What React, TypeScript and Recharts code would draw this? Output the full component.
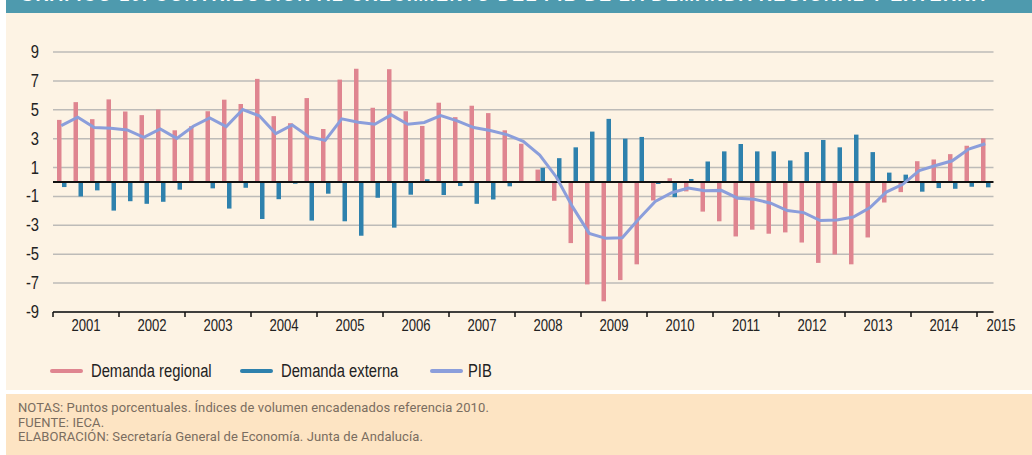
import React from "react";
import { ComposedChart, Bar, Line, XAxis, YAxis, CartesianGrid, ReferenceLine } from "recharts";

const years = [2001, 2002, 2003, 2004, 2005, 2006, 2007, 2008, 2009, 2010, 2011, 2012, 2013, 2014, 2015];

// Demanda regional, puntos porcentuales (trimestral, 2001T1 - 2015T1)
const regional = [
  4.3, 5.53, 4.35, 5.72,
  4.88, 4.63, 5.02, 3.58,
  3.86, 4.9, 5.7, 5.4,
  7.14, 4.56, 4.07, 5.81,
  3.67, 7.09, 7.84, 5.14,
  7.81, 4.9, 3.88, 5.49,
  4.49, 5.28, 4.77, 3.58,
  2.65, 0.86, -1.3, -4.23,
  -7.09, -8.26, -6.79, -5.7,
  -1.28, 0.26, -0.65, -2.05,
  -2.72, -3.77, -3.3, -3.58,
  -3.49, -4.19, -5.6, -5.02,
  -5.7, -3.84, -1.42, -0.7,
  1.44, 1.56, 1.93, 2.51,
  3.02,
];

// Demanda externa
const externa = [
  -0.35, -1.0, -0.58, -1.98,
  -1.33, -1.51, -1.37, -0.53,
  0.0, -0.44, -1.84, -0.4,
  -2.56, -1.19, -0.12, -2.67,
  -0.81, -2.72, -3.72, -1.09,
  -3.16, -0.88, 0.19, -0.9,
  -0.28, -1.51, -1.21, -0.3,
  0.05, 0.98, 1.65, 2.4,
  3.49, 4.37, 3.0, 3.12,
  -0.14, -1.05, 0.21, 1.42,
  2.12, 2.63, 2.12, 2.12,
  1.49, 2.07, 2.91, 2.4,
  3.28, 2.07, 0.65, 0.51,
  -0.67, -0.42, -0.47, -0.33,
  -0.37,
];

// PIB
const pib = [
  3.9, 4.49, 3.77, 3.72,
  3.6, 3.09, 3.67, 3.02,
  3.86, 4.44, 3.84, 5.02,
  4.58, 3.35, 3.95, 3.14,
  2.88, 4.37, 4.14, 4.0,
  4.65, 4.0, 4.12, 4.6,
  4.23, 3.77, 3.56, 3.28,
  2.81, 1.86, 0.35, -1.74,
  -3.56, -3.9, -3.86, -2.56,
  -1.35, -0.74, -0.42, -0.6,
  -0.58, -1.12, -1.19, -1.47,
  -1.98, -2.12, -2.67, -2.63,
  -2.42, -1.79, -0.7, -0.16,
  0.79, 1.14, 1.47, 2.28,
  2.65,
];

const yTicks = [9, 7, 5, 3, 1, -1, -3, -5, -7, -9];

const series = [
  { key: "regional", name: "Demanda regional", color: "#DF8590" },
  { key: "externa", name: "Demanda externa", color: "#2E81AD" },
  { key: "pib", name: "PIB", color: "#8B9EDB" },
];

const notes = [
  "NOTAS: Puntos porcentuales. Índices de volumen encadenados referencia 2010.",
  "FUENTE: IECA.",
  "ELABORACIÓN: Secretaría General de Economía. Junta de Andalucía.",
];

const quarters = years.flatMap((y) => (y === 2015 ? [`${y}-T1`] : [1, 2, 3, 4].map((q) => `${y}-T${q}`)));
const data = quarters.map((q, i) => ({ q, regional: regional[i], externa: externa[i], pib: pib[i] }));

const W = 1032;
const H = 360;
const M = { top: 52, right: 38.5, bottom: 18, left: 8 };
const Y_W = 45;
const BW = (W - M.left - M.right - Y_W) / quarters.length;

// no narrow face installed, so squeeze Liberation Sans horizontally
const sans = "'Liberation Sans', Arial, sans-serif";
const SQ = 0.82;

function YearTick(props: any) {
  const { x, y, payload } = props;
  const [yr, q] = String(payload.value).split("-");
  if (q !== "T1") return <g />;
  const left = x - BW / 2;
  const labelX = yr === "2015" ? left + 24 : left + BW * 2;
  return (
    <g>
      <line x1={left} x2={left} y1={y} y2={y + 5} stroke="#111" strokeWidth={1.5} />
      <text
        transform={`translate(${labelX},${y + 19}) scale(${SQ},1)`}
        textAnchor="middle"
        fontSize={16}
        fontFamily={sans}
        fill="#222"
      >
        {yr}
      </text>
    </g>
  );
}

function ValueTick(props: any) {
  const { x, y, payload } = props;
  return (
    <text
      transform={`translate(${x},${y + 6}) scale(${SQ},1)`}
      textAnchor="end"
      fontSize={18}
      fontFamily={sans}
      fill="#222"
    >
      {payload.value}
    </text>
  );
}

export default function App() {
  return (
    <div style={{ position: "absolute", left: 0, top: 0, width: W, height: 455, background: "#fff", overflow: "hidden" }}>
      {/* title band, cut off at the top */}
      <div style={{ position: "absolute", left: 6, top: 0, width: 1026, height: 13, background: "#4E9AAE", overflow: "hidden" }}>
        <span
          style={{
            position: "absolute",
            left: 14,
            top: -14,
            color: "#fff",
            fontFamily: sans,
            fontWeight: 700,
            fontSize: 18,
            lineHeight: "18px",
            whiteSpace: "nowrap",
            letterSpacing: 1.4,
          }}
        >
          GRÁFICO 10. CONTRIBUCIÓN AL CRECIMIENTO DEL PIB DE LA DEMANDA REGIONAL Y EXTERNA
        </span>
      </div>
      <div style={{ position: "absolute", left: 6, top: 13, width: 1026, height: 377, background: "#FDF3E4" }} />

      <div style={{ position: "absolute", left: 0, top: 0 }}>
        <ComposedChart width={W} height={H} data={data} margin={M} barGap={0.5} barSize={4.5}>
          <CartesianGrid vertical={false} stroke="#BDBBB8" strokeWidth={1.5} />
          <XAxis
            dataKey="q"
            interval={0}
            tickLine={false}
            tickSize={0}
            tickMargin={0}
            axisLine={{ stroke: "#111", strokeWidth: 1.5 }}
            tick={<YearTick />}
            height={30}
          />
          <YAxis
            domain={[-9, 9]}
            ticks={yTicks}
            width={Y_W}
            axisLine={false}
            tickLine={false}
            tickSize={0}
            tickMargin={14}
            tick={<ValueTick />}
          />
          <Bar dataKey="regional" name="Demanda regional" fill={series[0].color} isAnimationActive={false} />
          <Bar dataKey="externa" name="Demanda externa" fill={series[1].color} isAnimationActive={false} />
          <ReferenceLine y={0} stroke="#111" strokeWidth={2} />
          <Line
            dataKey="pib"
            name="PIB"
            type="linear"
            stroke={series[2].color}
            strokeWidth={3}
            dot={false}
            isAnimationActive={false}
          />
        </ComposedChart>
      </div>

      {/* legend */}
      {series.map((s, i) => {
        const lefts = [50, 240, 430];
        return (
          <div key={s.key} style={{ position: "absolute", left: lefts[i], top: 360, height: 22, display: "flex", alignItems: "center" }}>
            <div style={{ width: 33, height: 4, borderRadius: 2, background: s.color }} />
            <span
              style={{
                marginLeft: i === 2 ? 5 : 8,
                fontFamily: sans,
                fontSize: 18,
                color: "#222",
                display: "inline-block",
                transform: `scaleX(${SQ})`,
                transformOrigin: "left center",
                whiteSpace: "nowrap",
              }}
            >
              {s.name}
            </span>
          </div>
        );
      })}

      {/* notes */}
      <div
        style={{
          position: "absolute",
          left: 6,
          top: 394,
          width: 1026,
          height: 61,
          background: "#FDE4C3",
          boxSizing: "border-box",
          paddingLeft: 12,
          paddingTop: 7,
          fontFamily: "Roboto, 'Liberation Sans', sans-serif",
          fontSize: 13,
          letterSpacing: 0.1,
          lineHeight: "14.5px",
          color: "#7A6D60",
        }}
      >
        {notes.map((n) => (
          <div key={n}>{n}</div>
        ))}
      </div>
    </div>
  );
}
